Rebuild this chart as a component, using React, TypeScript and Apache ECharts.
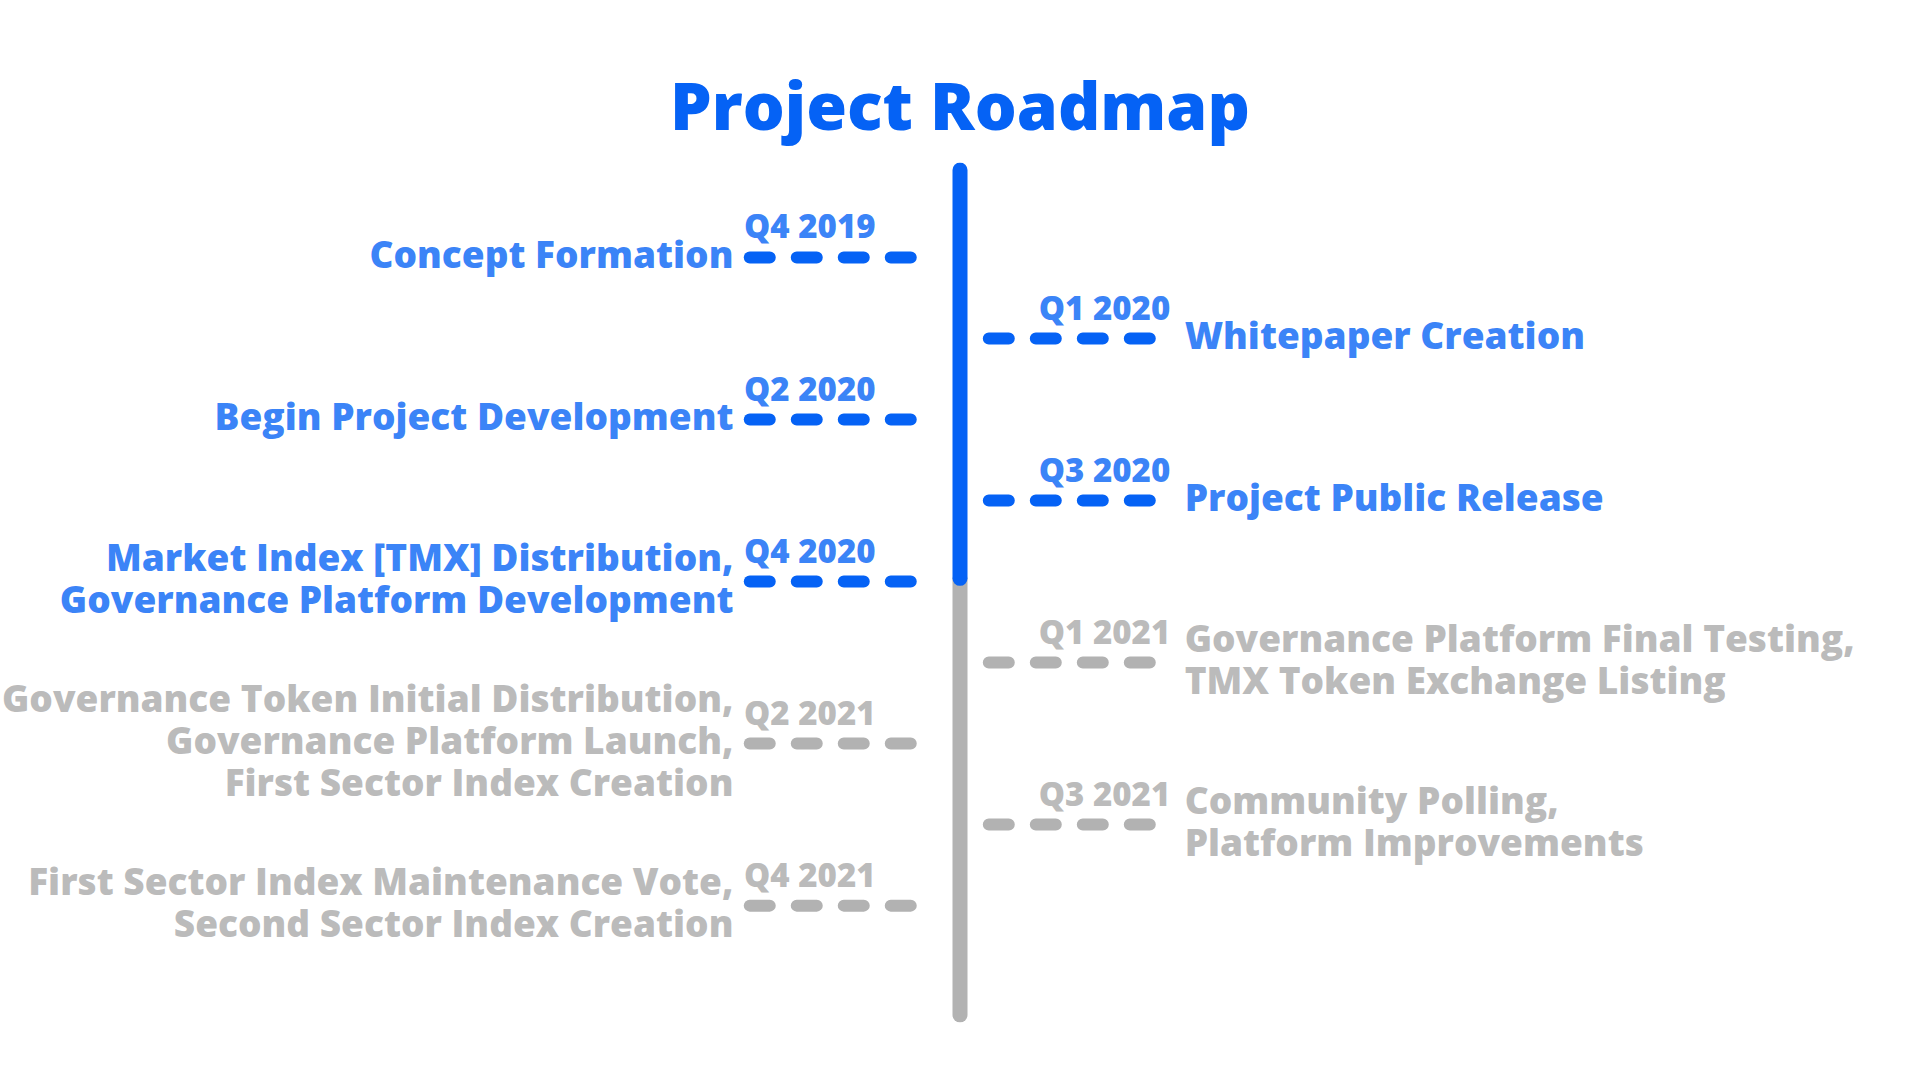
import React, { useEffect, useRef } from "react";
import * as echarts from "echarts";

const quarters = ["Q4 2019", "Q1 2020", "Q2 2020", "Q3 2020", "Q4 2020", "Q1 2021", "Q2 2021", "Q3 2021", "Q4 2021"];
const milestones = [
  "Concept Formation",
  "Whitepaper Creation",
  "Begin Project Development",
  "Project Public Release",
  "Market Index [TMX] Distribution,\nGovernance Platform Development",
  "Governance Platform Final Testing,\nTMX Token Exchange Listing",
  "Governance Token Initial Distribution,\nGovernance Platform Launch,\nFirst Sector Index Creation",
  "Community Polling,\nPlatform Improvements",
  "First Sector Index Maintenance Vote,\nSecond Sector Index Creation",
];
const sides = ["left", "right", "left", "right", "left", "right", "left", "right", "left"];
const done = [true, true, true, true, true, false, false, false, false];
const progressEnd = 3.96;

const BLUE = "#0562f5";
const GRAY = "#b2b2b2";
const GRAY_TEXT = "#a9a9a9";
const FONT = "'Open Sans', sans-serif";

const App: React.FC = () => {
  const ref = useRef<HTMLDivElement>(null);

  useEffect(() => {
    const chart = echarts.init(ref.current!, null, { renderer: "svg" });
    const series: any[] = [
      {
        type: "line",
        data: [[0, -1.08], [0, progressEnd]],
        symbol: "none",
        lineStyle: { color: BLUE, width: 15, cap: "round" },
        z: 3,
      },
      {
        type: "line",
        data: [[0, progressEnd], [0, 9.35]],
        symbol: "none",
        lineStyle: { color: GRAY, width: 15, cap: "round" },
        z: 2,
      },
    ];
    quarters.forEach((q, i) => {
      const left = sides[i] === "left";
      const color = done[i] ? BLUE : GRAY;
      const tcolor = done[i] ? BLUE : GRAY_TEXT;
      const x1 = left ? -21.9 : 3.0;
      const x2 = left ? -3.5 : 21.3;
      series.push({
        type: "line",
        data: [[x1, i], [x2, i]],
        symbol: "none",
        lineStyle: { color, width: 12, cap: "round", type: [20, 27] },
      });
      series.push({
        type: "scatter",
        symbolSize: 0,
        data: [
          {
            value: [left ? x1 - 0.6 : x2 + 0.6, i],
            label: {
              show: true,
              formatter: q,
              position: "inside",
              align: left ? "left" : "right",
              verticalAlign: "bottom",
              offset: [0, -15],
              color: tcolor,
              fontSize: 33,
              fontWeight: 800,
              fontFamily: FONT,
            },
          },
          {
            value: [left ? -23.6 : 23.4, i],
            label: {
              show: true,
              formatter: milestones[i],
              position: "inside",
              align: left ? "right" : "left",
              verticalAlign: "middle",
              offset: [0, -4],
              color: tcolor,
              fontSize: 37,
              lineHeight: 42,
              fontWeight: 800,
              fontFamily: FONT,
            },
          },
        ],
      });
    });

    chart.setOption({
      animation: false,
      title: {
        text: "Project Roadmap",
        left: "center",
        top: 66,
        textStyle: { color: BLUE, fontSize: 66, fontWeight: 800, fontFamily: FONT },
      },
      grid: { left: 0, right: 0, top: 170, bottom: 65 },
      xAxis: { type: "value", min: -100, max: 100, show: false },
      yAxis: { type: "value", min: -1.08, max: 9.35, inverse: true, show: false },
      series,
    });
    return () => chart.dispose();
  }, []);

  return <div ref={ref} style={{ position: "fixed", left: 0, top: 0, width: 1920, height: 1080, background: "#fff" }} />;
};

export default App;
